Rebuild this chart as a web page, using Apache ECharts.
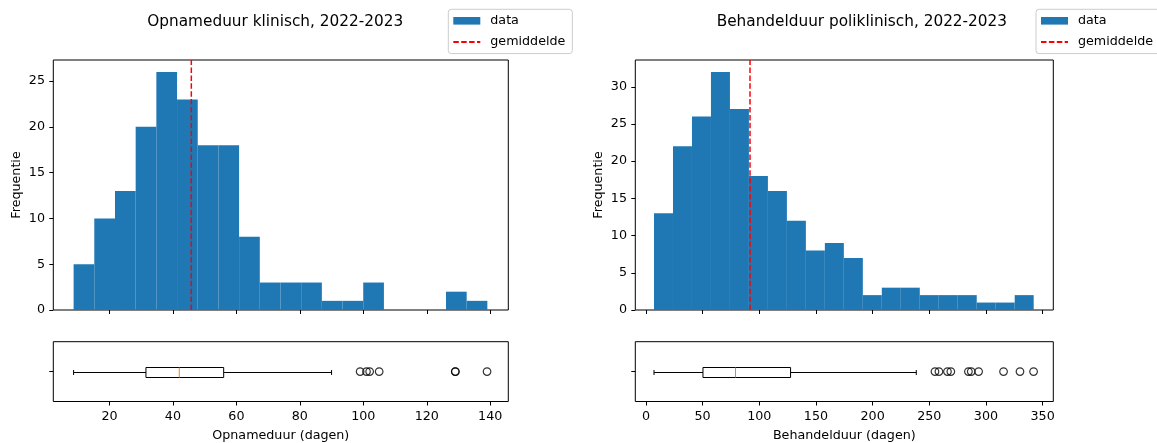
<!DOCTYPE html>
<html>
<head>
<meta charset="utf-8">
<script src="https://cdn.jsdelivr.net/npm/echarts@6/dist/echarts.min.js"></script>
<style>
  html, body { margin: 0; padding: 0; background: #fff; }
  #chart { width: 1157px; height: 443px; }
</style>
</head>
<body>
<div id="chart"></div>
<script>
// ---- Opnameduur klinisch (days) ----
const klinCounts = [5, 10, 13, 20, 26, 23, 18, 18, 8, 3, 3, 3, 1, 1, 3, 0, 0, 0, 2, 1];
const klinBinRange = [8.7, 139.1];
const klinMean = 45.8;
// whisker low, Q1, median, Q3, whisker high
const klinBox = [8.7, 31.5, 42.0, 56.0, 90.0];
const klinOutliers = [99, 101, 102, 105, 129, 129, 139];
const klinXRange = [2.3, 145.7];
const klinYMax = 27.3;
const klinXTicks = [20, 40, 60, 80, 100, 120, 140];
const klinYTicks = [0, 5, 10, 15, 20, 25];

// ---- Behandelduur poliklinisch (days) ----
const poliCounts = [13, 22, 26, 32, 27, 18, 16, 12, 8, 9, 7, 2, 3, 3, 2, 2, 2, 1, 1, 2];
const poliBinRange = [7.1, 342.1];
const poliMean = 91.8;
const poliBox = [7.1, 50.3, 79.0, 127.6, 238.5];
const poliOutliers = [255, 258.5, 266, 269, 284.5, 287, 293.5, 315.5, 330, 342];
const poliXRange = [-9.4, 359.4];
const poliYMax = 33.6;
const poliXTicks = [0, 50, 100, 150, 200, 250, 300, 350];
const poliYTicks = [0, 5, 10, 15, 20, 25, 30];

const titles = ['Opnameduur klinisch, 2022-2023', 'Behandelduur poliklinisch, 2022-2023'];
const xNames = ['Opnameduur (dagen)', 'Behandelduur (dagen)'];
const yName = 'Frequentie';
const legendNames = ['data', 'gemiddelde'];

const FONT = 'DejaVu Sans';
const TXT = '#000';
const BLUE = '#1f77b4';
const LABEL_SIZE = 12.7;
const TITLE_SIZE = 15.3;

// equal-width bins between the first and last edge
function histRows(counts, range) {
  const w = (range[1] - range[0]) / counts.length;
  return counts.map((c, i) => [range[0] + i * w, range[0] + (i + 1) * w, c]);
}

function renderBar(params, api) {
  const p0 = api.coord([api.value(0), api.value(2)]);
  const p1 = api.coord([api.value(1), 0]);
  return {
    type: 'rect',
    shape: { x: p0[0], y: p0[1], width: p1[0] - p0[0], height: p1[1] - p0[1] },
    style: { fill: BLUE }
  };
}

function renderBox(params, api) {
  const pos = api.value(5);
  const lo = api.coord([api.value(0), pos]);
  const q1 = api.coord([api.value(1), pos]);
  const med = api.coord([api.value(2), pos]);
  const q3 = api.coord([api.value(3), pos]);
  const hi = api.coord([api.value(4), pos]);
  const y = Math.round(lo[1]) + 0.5;
  const h = 10, cap = 5;
  const s = { stroke: '#000', lineWidth: 1, fill: null };
  return {
    type: 'group',
    children: [
      { type: 'line', shape: { x1: lo[0], y1: y, x2: q1[0], y2: y }, style: s },
      { type: 'line', shape: { x1: q3[0], y1: y, x2: hi[0], y2: y }, style: s },
      { type: 'line', shape: { x1: lo[0], y1: y - cap / 2, x2: lo[0], y2: y + cap / 2 }, style: s },
      { type: 'line', shape: { x1: hi[0], y1: y - cap / 2, x2: hi[0], y2: y + cap / 2 }, style: s },
      { type: 'rect', shape: { x: q1[0], y: y - h / 2, width: q3[0] - q1[0], height: h }, style: s },
      { type: 'line', shape: { x1: med[0], y1: y - h / 2, x2: med[0], y2: y + h / 2 },
        style: { stroke: '#ff7f0e', lineWidth: 1 } }
    ]
  };
}

const grids = [
  { left: 53.3, top: 60, width: 455, height: 250 },
  { left: 53.3, top: 341.7, width: 455, height: 61.6 },
  { left: 635.3, top: 60, width: 418, height: 250 },
  { left: 635.3, top: 341.7, width: 418, height: 61.6 }
].map(g => Object.assign({ show: true, borderColor: '#000', borderWidth: 1, containLabel: false }, g));

const tickStyle = { show: true, length: 4, lineStyle: { color: '#000', width: 1 } };
const labelStyle = { fontFamily: FONT, fontSize: LABEL_SIZE, color: TXT };

function xAxisFor(gridIndex, range, ticks, withLabels, name) {
  return {
    type: 'value', gridIndex, min: range[0], max: range[1],
    axisLine: { show: false, onZero: false }, splitLine: { show: false },
    axisTick: Object.assign({ customValues: ticks }, tickStyle),
    axisLabel: Object.assign({ show: withLabels, customValues: ticks, margin: 8.5 }, labelStyle),
    name: name || '', nameLocation: 'middle', nameGap: 27.5,
    nameTextStyle: labelStyle
  };
}

function yHistAxis(gridIndex, max, ticks) {
  return {
    type: 'value', gridIndex, min: 0, max: max,
    axisLine: { show: false, onZero: false }, splitLine: { show: false },
    axisTick: Object.assign({ customValues: ticks }, tickStyle),
    axisLabel: Object.assign({ customValues: ticks, margin: 8.3 }, labelStyle),
    name: yName, nameLocation: 'middle', nameRotate: 90, nameGap: 30.5,
    nameTextStyle: labelStyle
  };
}

function yBoxAxis(gridIndex) {
  return {
    type: 'value', gridIndex, min: 0.5, max: 1.5,
    axisLine: { show: false, onZero: false }, splitLine: { show: false },
    axisTick: Object.assign({ customValues: [1] }, tickStyle),
    axisLabel: { show: false }
  };
}

function legendAt(left) {
  return {
    left: left, top: 9.3, orient: 'vertical',
    data: [
      { name: legendNames[0], icon: 'rect' },
      { name: legendNames[1], itemStyle: { opacity: 0 } }
    ],
    itemWidth: 27, itemHeight: 7.6, itemGap: 8.3,
    padding: [5, 7, 5, 4],
    borderColor: '#cccccc', borderWidth: 1, borderRadius: 3,
    backgroundColor: 'rgba(255,255,255,0.8)',
    selectedMode: false,
    formatter: name => '{gap|}' + name,
    textStyle: {
      fontFamily: FONT, fontSize: LABEL_SIZE, color: TXT,
      rich: { gap: { width: 5 } }
    }
  };
}

function meanSeries(xIdx, mean, yMax) {
  return {
    type: 'line', name: legendNames[1], xAxisIndex: xIdx, yAxisIndex: xIdx,
    data: [[mean, 0], [mean, yMax]], symbol: 'none', silent: true, z: 5,
    lineStyle: { color: '#ff0000', width: 1.5, type: [5.5, 2.4] },
    itemStyle: { color: '#ff0000' }
  };
}

function panelSeries(idx, counts, binRange, mean, yMax, box, outliers) {
  return [
    { type: 'custom', name: legendNames[0], xAxisIndex: idx, yAxisIndex: idx,
      renderItem: renderBar, data: histRows(counts, binRange),
      encode: { x: [0, 1], y: 2 }, itemStyle: { color: BLUE }, silent: true },
    meanSeries(idx, mean, yMax),
    { type: 'custom', xAxisIndex: idx + 1, yAxisIndex: idx + 1,
      renderItem: renderBox, data: [box.concat([1])],
      encode: { x: [0, 1, 2, 3, 4], y: 5 }, silent: true },
    { type: 'scatter', xAxisIndex: idx + 1, yAxisIndex: idx + 1,
      data: outliers.map(v => [v, 1]), symbol: 'circle', symbolSize: 7.6, silent: true,
      itemStyle: { color: 'rgba(0,0,0,0)', borderColor: '#000', borderWidth: 1.2 } }
  ];
}

const titleStyle = { fontFamily: FONT, fontSize: TITLE_SIZE, fontWeight: 'normal', color: TXT };

const option = {
  animation: false,
  backgroundColor: '#fff',
  title: [
    { text: titles[0], left: 147.3, top: 15, padding: 0, textStyle: titleStyle },
    { text: titles[1], left: 716.7, top: 15, padding: 0, textStyle: titleStyle }
  ],
  legend: [legendAt(448.3), legendAt(1036)],
  grid: grids,
  xAxis: [
    xAxisFor(0, klinXRange, klinXTicks, false),
    xAxisFor(1, klinXRange, klinXTicks, true, xNames[0]),
    xAxisFor(2, poliXRange, poliXTicks, false),
    xAxisFor(3, poliXRange, poliXTicks, true, xNames[1])
  ],
  yAxis: [
    yHistAxis(0, klinYMax, klinYTicks),
    yBoxAxis(1),
    yHistAxis(2, poliYMax, poliYTicks),
    yBoxAxis(3)
  ],
  series: [].concat(
    panelSeries(0, klinCounts, klinBinRange, klinMean, klinYMax, klinBox, klinOutliers),
    panelSeries(2, poliCounts, poliBinRange, poliMean, poliYMax, poliBox, poliOutliers)
  )
};

const chart = echarts.init(document.getElementById('chart'), null, { renderer: 'canvas' });
chart.setOption(option);
</script>
</body>
</html>
